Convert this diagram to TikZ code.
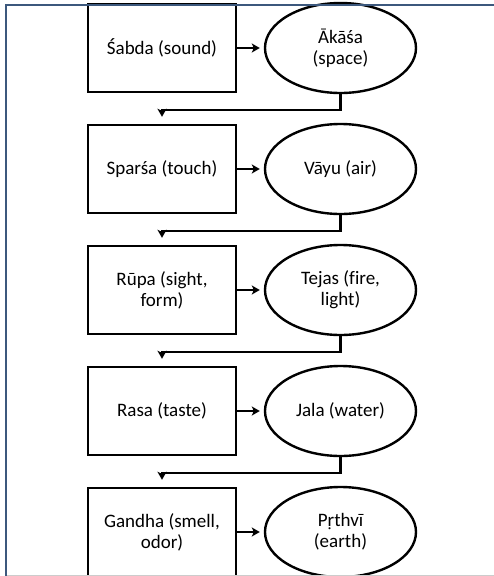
\documentclass[tikz,border=0pt]{standalone}
\usepackage{fontspec}
\setmainfont{Carlito}[Ligatures=NoCommon]
\usetikzlibrary{arrows.meta,shapes.geometric}
\definecolor{frameblue}{RGB}{60,88,125}
\tikzset{
  sense/.style={draw, line width=2.4pt, minimum width=148pt, minimum height=88pt, inner sep=0pt, align=center},
  element/.style={draw, ellipse, line width=2.4pt, minimum width=151pt, minimum height=90pt, inner sep=0pt, align=center},
  link/.style={line width=2.4pt, -{Stealth[length=8pt,width=9pt,inset=2pt]}}
}
\begin{document}
\begin{tikzpicture}[x=1pt,y=-1pt,font=\fontsize{19}{21}\selectfont]
        \clip (0,0) rectangle (494,576);
        \node[sense] (sabda) at (162,48) {Śabda (sound)};
        \node[element] (akasa) at (340.5,48) {Ākāśa\\(space)};
        \node[sense] (sparsa) at (162,169) {Sparśa (touch)};
        \node[element] (vayu) at (340.5,169) {Vāyu (air)};
        \node[sense] (rupa) at (162,290) {Rūpa (sight,\\form)};
        \node[element] (tejas) at (340.5,290) {Tejas (fire,\\light)};
        \node[sense] (rasa) at (162,411) {Rasa (taste)};
        \node[element] (jala) at (340.5,411) {Jala (water)};
        \node[sense] (gandha) at (162,532) {Gandha (smell,\\odor)};
        \node[element] (prthvi) at (340.5,532) {Pṛthvī\\(earth)};

        \draw[link, shorten >=4pt] (sabda) -- (akasa);
        \draw[link, shorten >=4pt] (sparsa) -- (vayu);
        \draw[link, shorten >=4pt] (rupa) -- (tejas);
        \draw[link, shorten >=4pt] (rasa) -- (jala);
        \draw[link, shorten >=4pt] (gandha) -- (prthvi);

        \draw[link, shorten >=7pt] (akasa.south) -- ++(0,16) -| (sparsa.north);
        \draw[link, shorten >=7pt] (vayu.south) -- ++(0,16) -| (rupa.north);
        \draw[link, shorten >=7pt] (tejas.south) -- ++(0,16) -| (rasa.north);
        \draw[link, shorten >=7pt] (jala.south) -- ++(0,16) -| (gandha.north);

        % page frame
        \draw[gray!40, line width=1pt] (6,575.5) -- (494,575.5);
        \draw[frameblue, line width=2.5pt] (6,576) -- (6,5) -- (494,5);
\end{tikzpicture}
\end{document}
